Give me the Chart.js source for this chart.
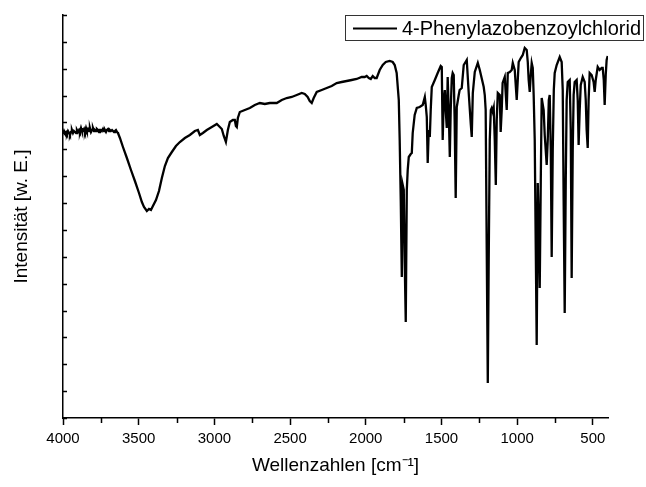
<!DOCTYPE html>
<html>
<head>
<meta charset="utf-8">
<script src="https://cdn.jsdelivr.net/npm/chart.js@4.4.0/dist/chart.umd.min.js"></script>
<style>
  html, body { margin: 0; padding: 0; background: #fff; }
  #wrap { width: 646px; height: 487px; }
</style>
</head>
<body>
<div id="wrap"><canvas id="ir" width="646" height="487"></canvas></div>
<script>
// spectrum (wavenumber in cm-1, intensity in arbitrary units)
const wavenumbers = [
  4000, 3993, 3987, 3980, 3974, 3967, 3960, 3954, 3947, 3941, 3934, 3928, 3921, 3914, 3908, 3901,
  3894, 3888, 3881, 3875, 3868, 3861, 3855, 3848, 3842, 3835, 3828, 3822, 3815, 3808, 3802, 3795,
  3789, 3782, 3776, 3769, 3762, 3756, 3749, 3743, 3736, 3729, 3723, 3716, 3710, 3703, 3696, 3690,
  3683, 3676, 3670, 3663, 3657, 3650, 3643, 3637, 3624, 3604, 3578,
  3551, 3525, 3498, 3479, 3465, 3446, 3432, 3419, 3406, 3386, 3366, 3347, 3327, 3307, 3281, 3254,
  3228, 3195, 3162, 3129, 3109, 3096, 3076, 3050, 3017, 2984, 2964, 2951, 2938, 2924, 2911, 2898,
  2878, 2865, 2858, 2852, 2845, 2832, 2799, 2766, 2733, 2700, 2667, 2634, 2588, 2555, 2522, 2489,
  2456, 2423, 2403, 2384, 2370, 2357, 2344, 2324, 2291, 2258, 2225, 2192, 2159, 2126, 2093, 2060,
  2027, 2007, 1994, 1980, 1967, 1954, 1941, 1928, 1908, 1888, 1868, 1842, 1822, 1809, 1796, 1782,
  1776, 1769, 1762, 1756, 1749, 1743, 1736, 1729, 1723, 1716, 1703, 1696, 1690, 1677, 1663, 1644,
  1624, 1610, 1604, 1597, 1591, 1584, 1577, 1571, 1564, 1544, 1525, 1505, 1498, 1492, 1485, 1478,
  1472, 1465, 1459, 1452, 1445, 1439, 1432, 1426, 1419, 1413, 1406, 1399, 1386, 1380, 1366, 1353,
  1333, 1320, 1306, 1300, 1293, 1280, 1260, 1247, 1227, 1221, 1214, 1208, 1201, 1194, 1188, 1181,
  1174, 1168, 1161, 1155, 1148, 1141, 1135, 1128, 1115, 1109, 1102, 1096, 1082, 1069, 1062, 1049,
  1036, 1029, 1016, 1003, 996, 990, 976, 963, 950, 937, 930, 924, 917, 910, 904, 897,
  891, 884, 877, 871, 864, 857, 851, 844, 838, 825, 818, 805, 798, 791, 785, 778,
  772, 765, 758, 752, 739, 719, 706, 699, 693, 686, 679, 673, 666, 653, 646, 640,
  633, 627, 620, 607, 600, 594, 587, 580, 567, 554, 547, 541, 534, 528, 521, 508,
  495, 488, 481, 468, 455, 442, 435, 428, 422, 415, 409, 402
];
const intensity = [
  284, 287, 285, 286, 284, 287, 285, 283, 286, 288, 285, 287, 286, 285, 288, 286,
  288, 286, 290, 287, 287, 289, 286, 290, 287, 289, 287, 290, 286, 288, 290, 287,
  288, 287, 289, 288, 286, 288, 288, 287, 289, 287, 288, 286, 288, 289, 287, 288,
  287, 288, 288, 286, 287, 288, 286, 285, 280, 271, 260,
  248, 237, 225, 216, 211, 207, 209, 208, 212, 218, 227, 240, 252, 260, 266, 272,
  276, 280, 283, 287, 288, 283, 285, 288, 291, 294, 291, 289, 282, 276, 288, 296,
  298, 298, 292, 291, 300, 306, 308, 310, 313, 315, 314, 315, 315, 318, 320, 321,
  323, 325, 324, 321, 317, 315, 320, 326, 328, 330, 332, 335, 336, 337, 338, 339,
  341, 341, 342, 340, 339, 342, 340, 340, 348, 353, 356, 357, 356, 353, 345, 318,
  278, 218, 141, 233, 228, 158, 96, 228, 248, 261, 264, 265, 285, 303, 310, 311,
  313, 321, 313, 301, 255, 288, 281, 308, 331, 338, 345, 352, 351, 278, 318, 328,
  308, 290, 341, 308, 261, 308, 340, 345, 343, 298, 220, 311, 323, 328, 330, 353,
  358, 325, 293, 281, 325, 346, 355, 348, 335, 331, 323, 308, 168, 35, 158, 278,
  308, 310, 306, 310, 278, 233, 298, 325, 323, 286, 308, 335, 341, 308, 345, 346,
  348, 355, 348, 318, 338, 356, 360, 363, 370, 368, 356, 338, 326, 343, 355, 350,
  323, 278, 168, 73, 235, 188, 130, 238, 320, 308, 283, 253, 278, 318, 323, 268,
  161, 268, 328, 345, 353, 361, 356, 328, 218, 105, 238, 318, 336, 338, 288, 140,
  268, 323, 336, 338, 318, 273, 308, 333, 341, 336, 318, 288, 270, 318, 345, 343,
  336, 326, 338, 351, 348, 350, 350, 338, 313, 343, 358, 362
];

const seriesLabel = '4-Phenylazobenzoylchlorid';
const xMajorTicks = [4000, 3500, 3000, 2500, 2000, 1500, 1000, 500];
const xMinorTicks = [3750, 3250, 2750, 2250, 1750, 1250, 750];
const xRange = [400, 4000];
const yRange = [0, 403];
const yTickCount = 15;

const points = wavenumbers.map((w, i) => ({ x: w, y: intensity[i] }));

const FONT = '"Liberation Sans", Arial, sans-serif';

// inward y ticks, minor x ticks and the boxed legend
const extras = {
  id: 'extras',
  afterDraw(chart) {
    const ctx = chart.ctx;
    const xs = chart.scales.x, ys = chart.scales.y;
    const area = chart.chartArea;
    ctx.save();
    ctx.strokeStyle = '#000';
    ctx.lineWidth = 1.5;
    ctx.beginPath();
    xMinorTicks.forEach(v => {
      const px = Math.round(xs.getPixelForValue(v)) + 0.5;
      ctx.moveTo(px, area.bottom);
      ctx.lineTo(px, area.bottom + 5);
    });
    for (let i = 0; i <= yTickCount; i++) {
      const v = yRange[0] + (yRange[1] - yRange[0]) * i / yTickCount;
      const py = Math.round(ys.getPixelForValue(v)) + 0.5;
      ctx.moveTo(area.left, py);
      ctx.lineTo(area.left + 4, py);
    }
    ctx.stroke();

    // legend
    ctx.lineWidth = 1;
    ctx.strokeStyle = '#333';
    ctx.strokeRect(345.5, 15.5, 298, 25);
    ctx.strokeStyle = '#000';
    ctx.lineWidth = 2;
    ctx.beginPath();
    ctx.moveTo(353, 28.5);
    ctx.lineTo(397, 28.5);
    ctx.stroke();
    ctx.fillStyle = '#000';
    ctx.font = '20px ' + FONT;
    ctx.textBaseline = 'middle';
    ctx.fillText(seriesLabel, 402, 29);
    ctx.restore();
  }
};

new Chart(document.getElementById('ir'), {
  type: 'line',
  data: {
    datasets: [{
      label: seriesLabel,
      data: points,
      borderColor: '#000',
      borderWidth: 2.3,
      pointRadius: 0,
      tension: 0,
      fill: false
    }]
  },
  options: {
    responsive: false,
    devicePixelRatio: 1,
    animation: false,
    layout: { padding: { left: 0, right: 38, top: 15, bottom: 0 } },
    plugins: { legend: { display: false }, tooltip: { enabled: false } },
    scales: {
      x: {
        type: 'linear',
        reverse: true,
        min: xRange[0],
        max: xRange[1],
        afterBuildTicks: s => { s.ticks = xMajorTicks.map(v => ({ value: v })); },
        afterFit: s => { s.height = 69; },
        border: { display: true, color: '#000', width: 1.5 },
        grid: { drawOnChartArea: false, drawTicks: true, tickLength: 7, color: '#000', tickWidth: 1.5 },
        ticks: {
          color: '#000', font: { family: FONT, size: 15 }, padding: 5, maxRotation: 0, autoSkip: false,
          callback: v => String(v)
        },
        title: {
          display: true,
          text: 'Wellenzahlen [cm\u207B\u00B9]',
          color: '#000',
          font: { family: FONT, size: 19 },
          padding: { top: 0, bottom: 10 }
        }
      },
      y: {
        type: 'linear',
        min: yRange[0],
        max: yRange[1],
        afterFit: s => { s.width = 63; },
        border: { display: true, color: '#000', width: 1.5 },
        grid: { display: false },
        ticks: { display: false },
        title: {
          display: true,
          text: 'Intensit\u00E4t [w. E.]',
          color: '#000',
          font: { family: FONT, size: 19 },
          padding: { top: 10, bottom: 0 }
        }
      }
    }
  },
  plugins: [extras]
});
</script>
</body>
</html>
